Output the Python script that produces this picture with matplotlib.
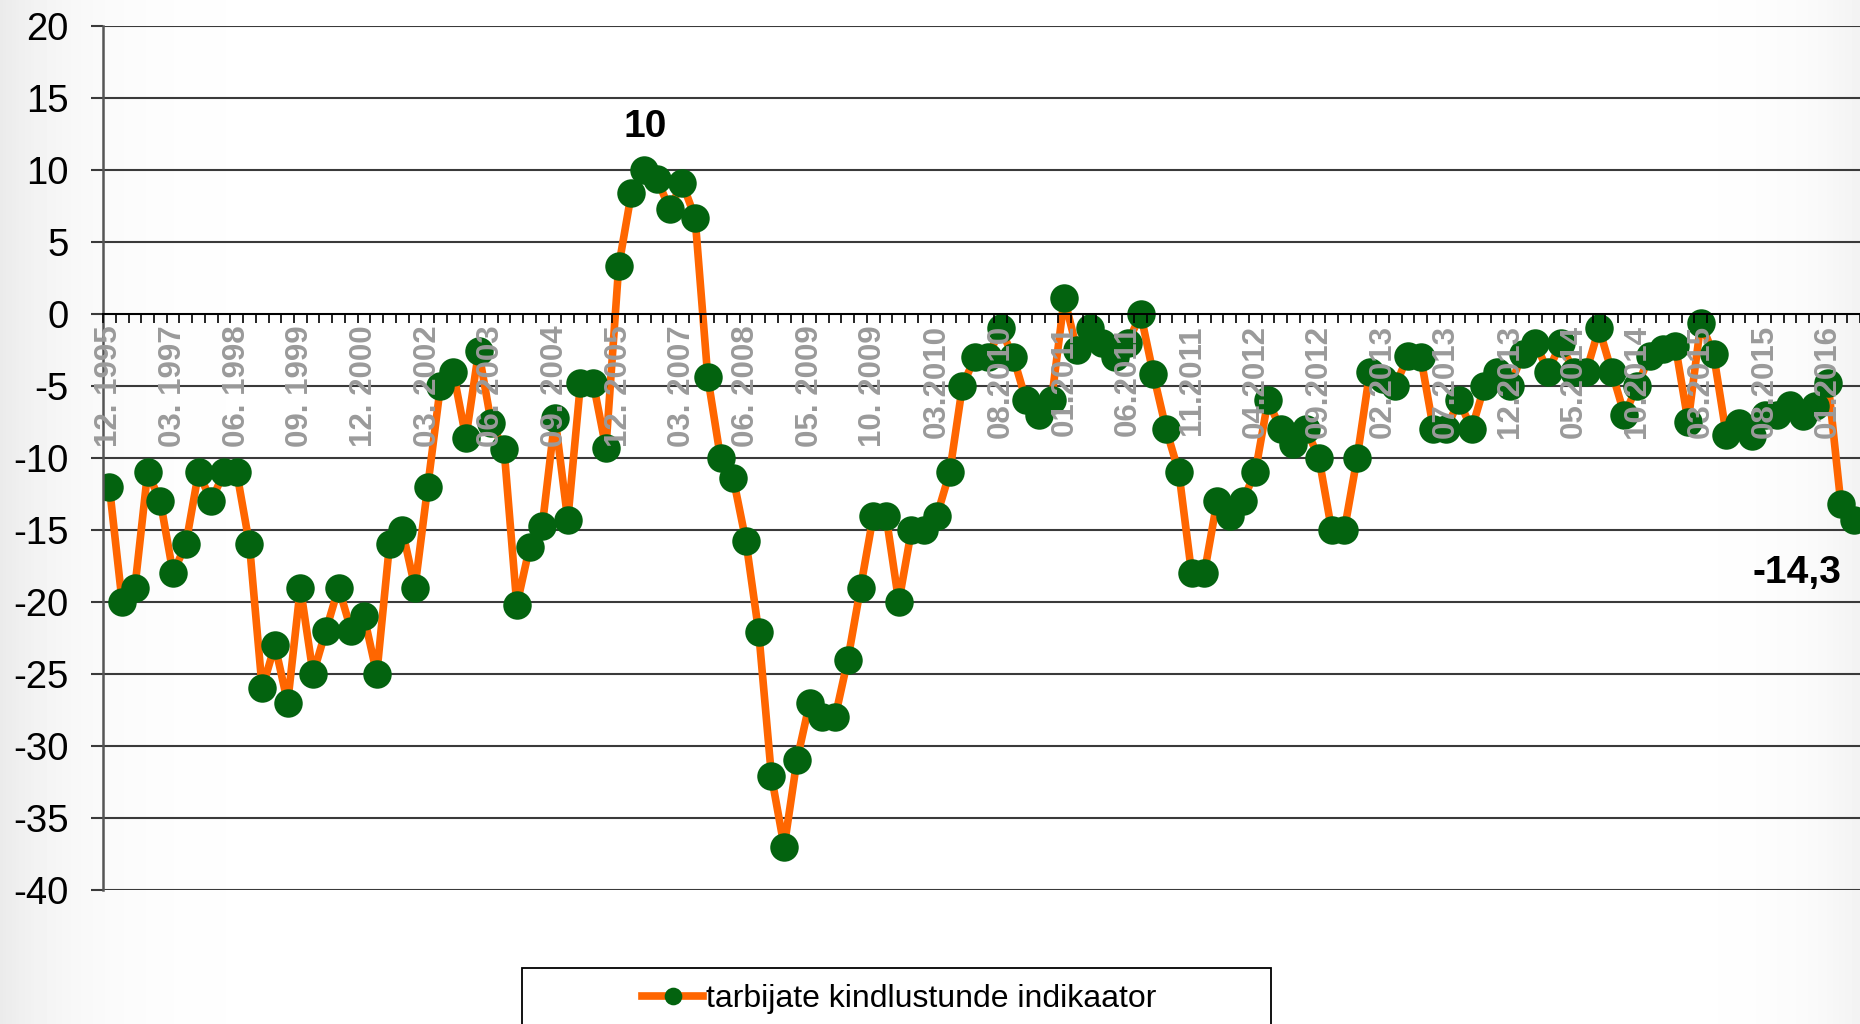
import numpy as np
import matplotlib.pyplot as plt
from matplotlib.patches import Rectangle

plt.rcParams["font.family"] = ["Liberation Sans", "DejaVu Sans"]
plt.rcParams["axes.unicode_minus"] = False

series_name = "tarbijate kindlustunde indikaator"

# quarterly values until 2009, monthly afterwards
values = [
    -12, -20, -19, -11, -13, -18, -16, -11, -13, -11,
    -11, -16, -26, -23, -27, -19, -25, -22, -19, -22,
    -21, -25, -16, -15, -19, -12, -5, -4, -8.6, -2.6,
    -7.6, -9.4, -20.2, -16.2, -14.7, -7.2, -14.3, -4.8, -4.8, -9.3,
    3.3, 8.4, 10, 9.4, 7.3, 9.1, 6.7, -4.4, -10, -11.4,
    -15.8, -22.1, -32.1, -37, -31, -27, -28, -28, -24, -19,
    -14, -14, -20, -15, -15, -14, -11, -5, -3, -3,
    -1, -3, -6, -7, -6, 1.1, -2.5, -1, -2, -3,
    -2, 0, -4.2, -8, -11, -18, -18, -13, -14, -13,
    -11, -6, -8, -9, -8, -10, -15, -15, -10, -4,
    -4.5, -5, -2.9, -3, -8, -8, -6, -8, -5, -4,
    -5, -2.8, -2, -4, -2, -4, -4, -1, -4, -7,
    -5, -2.9, -2.4, -2.2, -7.5, -0.6, -2.8, -8.4, -7.6, -8.5,
    -7, -7, -6.3, -7.1, -6.4, -4.8, -13.2, -14.3,
]

# one label every fifth category
tick_labels = [
    "12. 1995", "03. 1997", "06. 1998", "09. 1999", "12. 2000",
    "03. 2002", "06. 2003", "09. 2004", "12. 2005", "03. 2007",
    "06. 2008", "05. 2009", "10. 2009", "03.2010", "08.2010",
    "01.2011", "06.2011", "11.2011", "04.2012", "09.2012",
    "02.2013", "07.2013", "12.2013", "05.2014", "10.2014",
    "03.2015", "08.2015", "01.2016",
]
label_step = 5

LINE_COLOR = "#ff6600"
DOT_COLOR = "#03630f"
GRID_COLOR = "#3a3a3a"
LABEL_GRAY = "#9a9a9a"


def fmt(v):
    return f"{v:g}".replace(".", ",")


fig = plt.figure(figsize=(18.6, 10.24), dpi=100)

# soft grey edges of the slide background
bg = fig.add_axes([0, 0, 1, 1], zorder=-10)
xx = np.linspace(0, 1, 600)
shade = 1 - 0.08 * np.exp(-xx / 0.04) - 0.05 * np.exp(-(1 - xx) / 0.03)
bg.imshow(np.tile(shade, (10, 1)), cmap="gray", vmin=0, vmax=1,
          aspect="auto", extent=(0, 1, 0, 1))
bg.axis("off")

ax = fig.add_axes([0.0554, 0.1309, 0.9446, 0.8437])
ax.patch.set_alpha(0)

x = np.arange(len(values))
line, = ax.plot(x, values, color=LINE_COLOR, lw=5.5, marker="o", ms=20.5,
                mfc=DOT_COLOR, mec=DOT_COLOR, mew=0, zorder=2)

ax.set_xlim(-0.5, len(values) - 0.55)
ax.set_ylim(-40, 20)
ax.set_yticks(np.arange(-40, 21, 5))
ax.tick_params(axis="y", length=8.6, width=1.5, color=GRID_COLOR,
               labelsize=27.5, pad=16)
ax.grid(axis="y", color=GRID_COLOR, lw=1.5)
ax.yaxis.set_zorder(1)

for side in ("top", "right"):
    ax.spines[side].set_visible(False)
ax.spines["left"].set_color("#555555")
ax.spines["left"].set_linewidth(1.8)
ax.spines["bottom"].set_position(("data", 0))
ax.spines["bottom"].set_color("black")
ax.spines["bottom"].set_linewidth(1.4)

ax.set_xticks(x[::label_step], tick_labels)
ax.set_xticks(np.arange(len(values) + 1) - 0.5, minor=True)
ax.tick_params(axis="x", which="major", length=0, pad=8, labelsize=22.5,
               labelcolor=LABEL_GRAY, labelrotation=90)
ax.tick_params(axis="x", which="minor", length=6.5, width=1.2,
               color="black", direction="out")
for lbl in ax.get_xticklabels():
    lbl.set_fontweight("bold")
ax.xaxis.set_zorder(3)

peak = int(np.argmax(values))
ax.annotate(fmt(values[peak]), (peak, values[peak]), xytext=(1, 31),
            textcoords="offset points", ha="center", va="center",
            fontsize=28, fontweight="bold")
last = len(values) - 1
ax.annotate(fmt(values[last]), (last, values[last]), xytext=(-41, -38),
            textcoords="offset points", ha="center", va="center",
            fontsize=28, fontweight="bold")

# legend box runs off the bottom edge like in the original slide
box = Rectangle((0.2806, -0.05), 0.4027, 0.1047, transform=fig.transFigure,
                fc="white", ec="black", lw=1.3, zorder=1)
fig.add_artist(box)
fig.legend([line], [series_name], loc="center", bbox_to_anchor=(0.4836, 0.0244),
           frameon=False, fontsize=23, handlelength=1.9, handletextpad=0.1,
           markerscale=0.62)

fig.savefig("out.png", dpi=100)
